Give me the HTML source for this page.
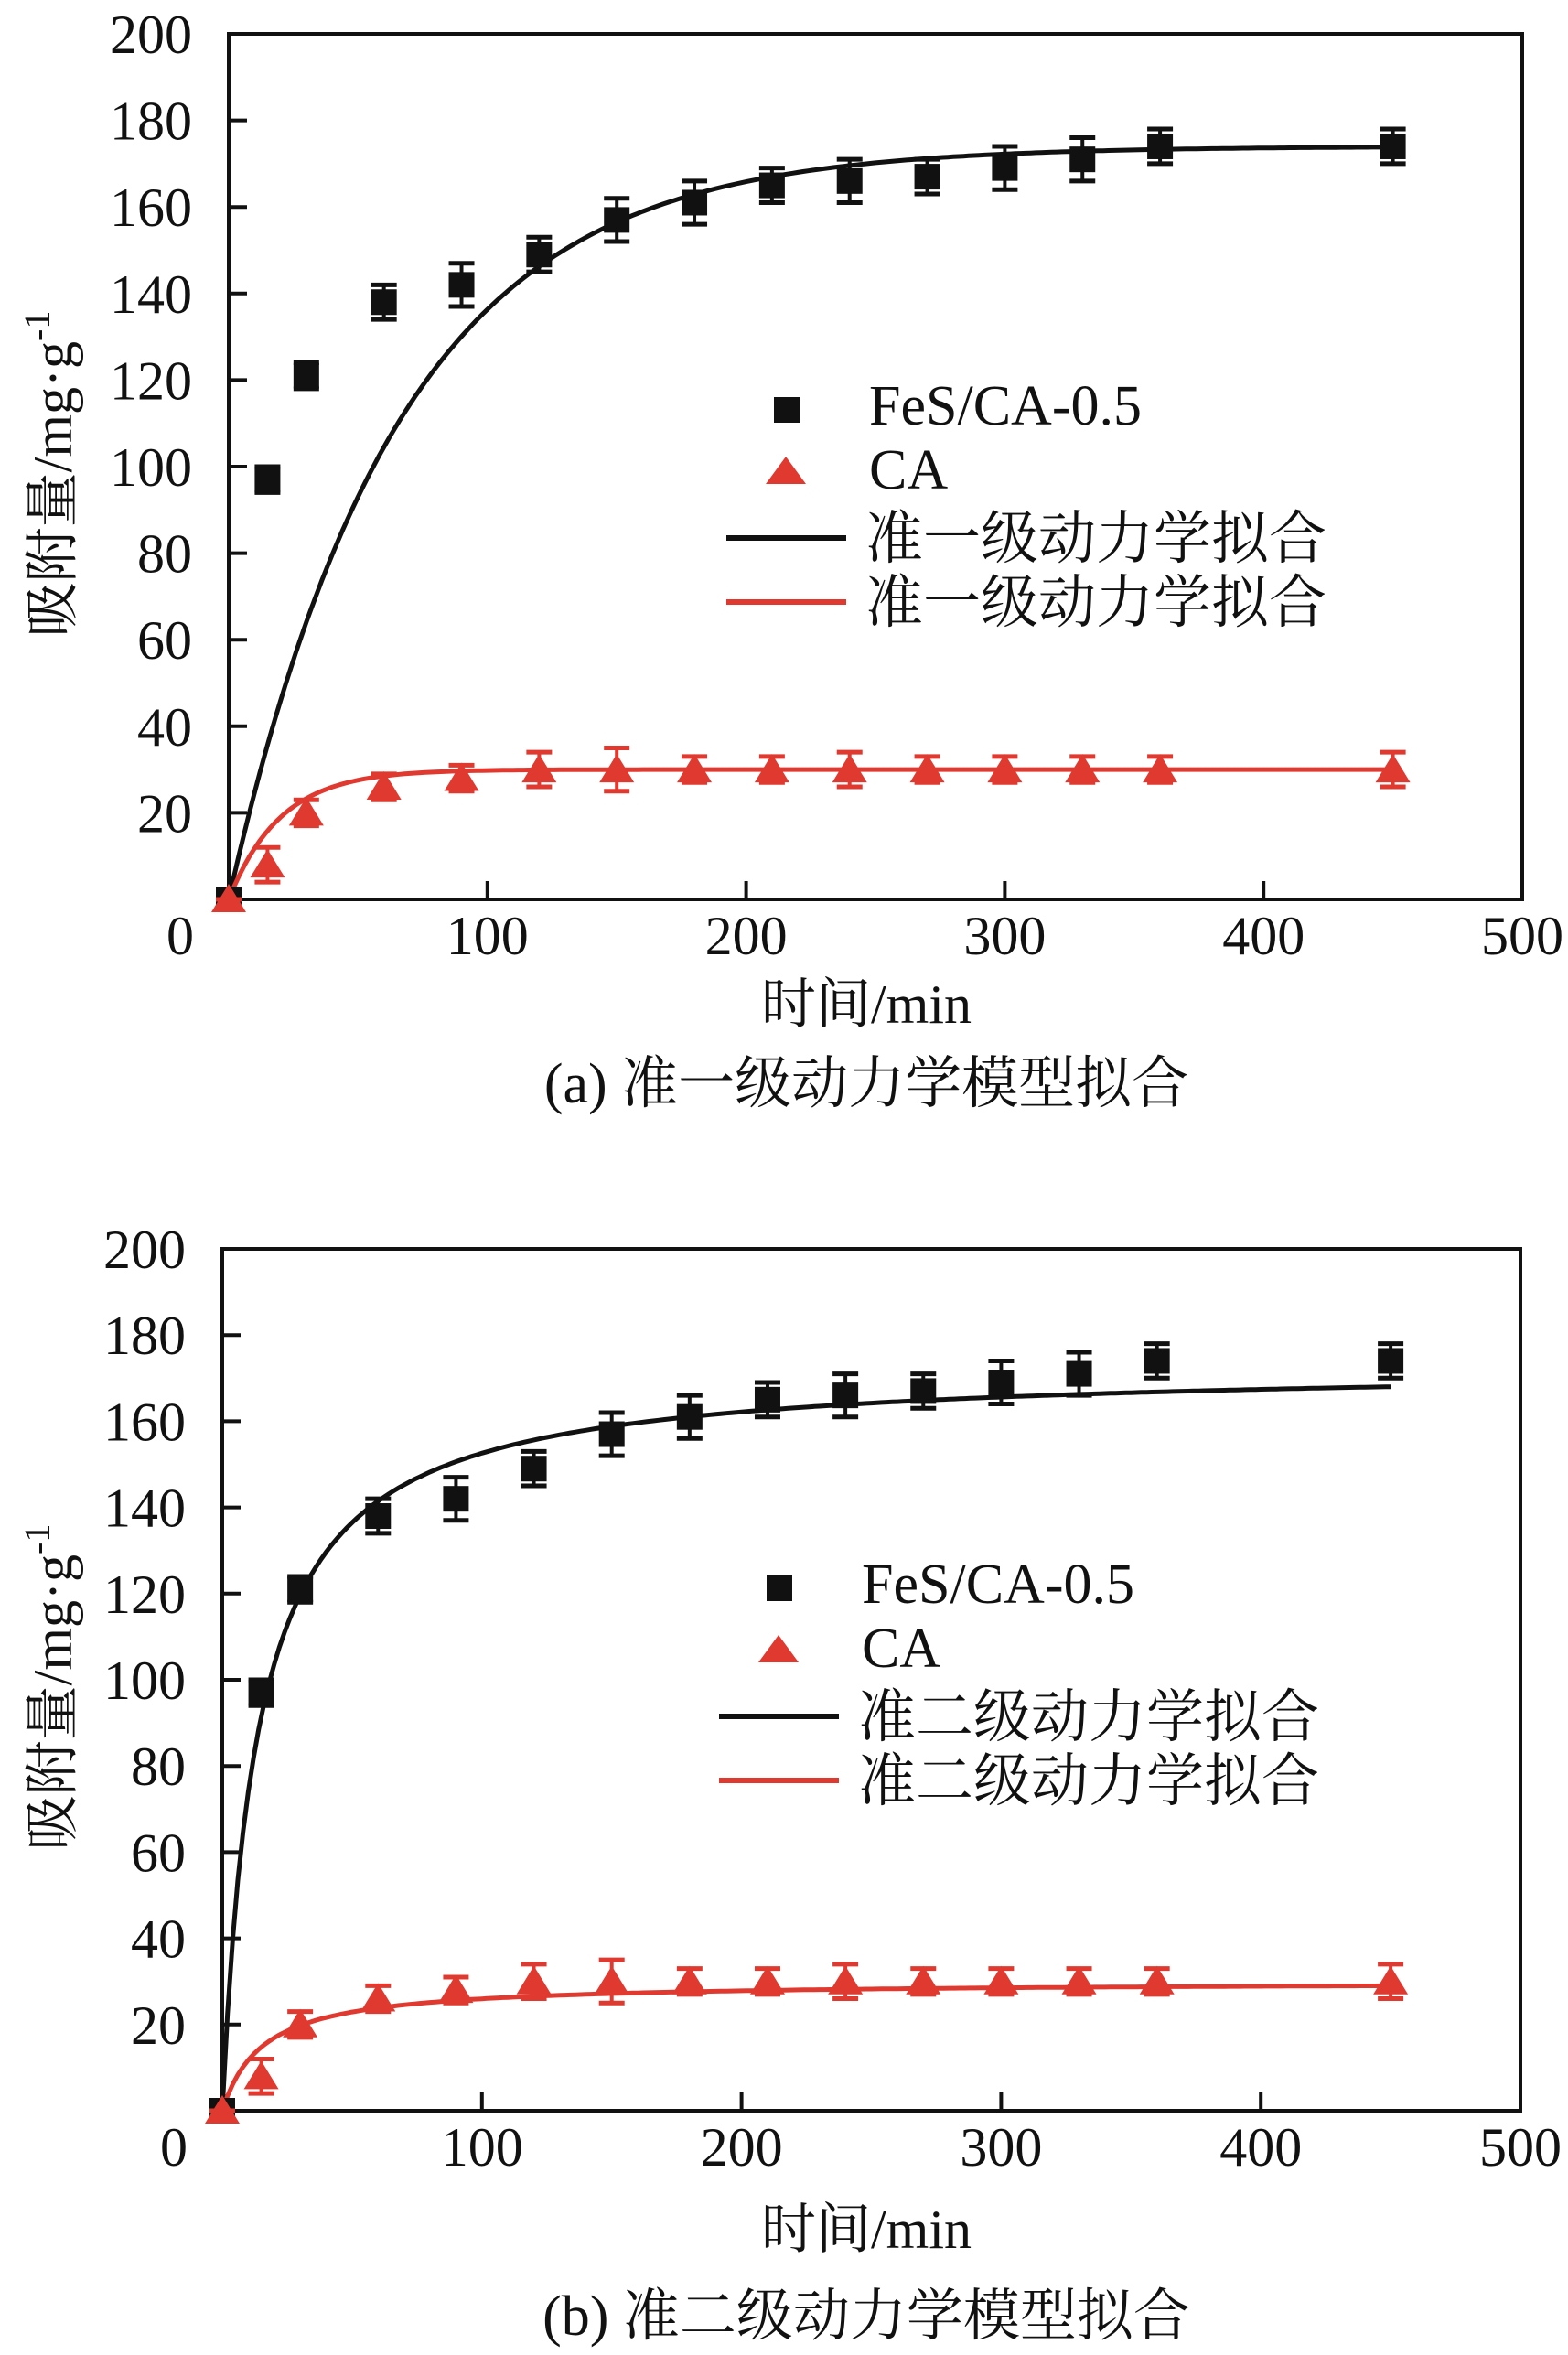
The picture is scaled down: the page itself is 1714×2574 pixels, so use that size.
<!DOCTYPE html>
<html><head><meta charset="utf-8"><style>
html,body{margin:0;padding:0;background:#fff;}
svg{display:block;font-family:"Liberation Serif","Noto Serif CJK SC","Noto Sans CJK SC",serif;}
</style></head><body>
<svg id="fig" width="1714" height="2574" viewBox="0 0 1714 2574" xmlns="http://www.w3.org/2000/svg"></svg>
<script>
const times = [0, 15, 30, 60, 90, 120, 150, 180, 210, 240, 270, 300, 330, 360, 450];
const fesValues = [0, 97, 121, 138, 142, 149, 157, 161, 165, 166, 167, 169, 171, 174, 174];
const fesErrors = [0, 3, 3, 4, 5, 4, 5, 5, 4, 5, 4, 5, 5, 4, 4];
const caValues = [0, 8, 20, 26, 28, 30, 30, 30, 30, 30, 30, 30, 30, 30, 30];
const caErrors = [0, 4, 3, 3, 3, 4, 5, 3, 3, 4, 3, 3, 3, 3, 4];
const pfoParams = [[174, 0.0153], [30, 0.05]];      // qe, k1
const psoParams = [[173, 0.000432], [30, 0.00215]]; // qe, k2
const xTicks = [0, 100, 200, 300, 400, 500];
const yTicks = [20, 40, 60, 80, 100, 120, 140, 160, 180, 200];
const legendLabels = ["FeS/CA-0.5", "CA"];

const NS = "http://www.w3.org/2000/svg";
const svg = document.getElementById("fig");
function mk(tag, attrs, parent) {
  const e = document.createElementNS(NS, tag);
  for (const k in attrs) e.setAttribute(k, attrs[k]);
  (parent || svg).appendChild(e);
  return e;
}

function drawPanel(p) {
  const g = mk("g", {});
  
  
  const X = v => p.L + (v / 500) * (p.R - p.L);
  const Y = v => p.B - (v / 200) * (p.B - p.T);

  const frame = mk("rect", {x: p.L, y: p.T, width: p.R - p.L, height: p.B - p.T, fill: "none", stroke: "#111", "stroke-width": 4}, g);
  
  

  yTicks.forEach(v => {
    if (v < 200) {
      const t = mk("line", {x1: p.L, x2: p.L + 20, y1: Y(v), y2: Y(v), stroke: "#111", "stroke-width": 4}, g);
      
      
    }
    const lb = mk("text", {x: p.L - 40, y: Y(v) + 21, "font-size": 60, "text-anchor": "end", fill: "#111"}, g);
    lb.textContent = v;
    
    
  });
  xTicks.forEach(v => {
    if (v > 0 && v < 500) {
      const t = mk("line", {x1: X(v), x2: X(v), y1: p.B, y2: p.B - 20, stroke: "#111", "stroke-width": 4}, g);
      
      
    }
    const lx = v === 0 ? p.L - 53 : X(v);
    const lb = mk("text", {x: lx, y: p.B + 60, "font-size": 60, "text-anchor": "middle", fill: "#111"}, g);
    lb.textContent = v;
    
    
  });

  const colors = ["#111", "#e03a30"];
  p.params.forEach((pr, i) => {
    let d = "";
    for (let t = 0; t <= 450; t += 2) {
      const q = p.model(pr, t);
      d += (t === 0 ? "M" : "L") + X(t).toFixed(1) + "," + Y(q).toFixed(1);
    }
    const c = mk("path", {d: d, fill: "none", stroke: colors[i], "stroke-width": 5}, g);
    
    
  });

  function errBar(x, v, e, col, parent) {
    const y1 = Y(v + e), y2 = Y(v - e);
    mk("line", {x1: X(x), x2: X(x), y1: y1, y2: y2, stroke: col, "stroke-width": 4}, parent);
    mk("line", {x1: X(x) - 14, x2: X(x) + 14, y1: y1, y2: y1, stroke: col, "stroke-width": 5}, parent);
    mk("line", {x1: X(x) - 14, x2: X(x) + 14, y1: y2, y2: y2, stroke: col, "stroke-width": 5}, parent);
  }
  times.forEach((t, i) => {
    const pt = mk("g", {}, g);
    
    
    errBar(t, fesValues[i], fesErrors[i], "#111", pt);
    mk("rect", {x: X(t) - 14, y: Y(fesValues[i]) - 14, width: 28, height: 28, fill: "#111"}, pt);
  });
  times.forEach((t, i) => {
    const pt = mk("g", {}, g);
    
    
    errBar(t, caValues[i], caErrors[i], "#e03a30", pt);
    const cx = X(t), cy = Y(caValues[i]);
    mk("polygon", {points: `${cx},${cy - 17} ${cx + 19},${cy + 14} ${cx - 19},${cy + 14}`, fill: "#e03a30"}, pt);
  });

  const lg = mk("g", {}, g);
  
  
  const ly = p.legendY, lx = p.legendX;
  mk("rect", {x: lx + 52, y: ly - 14, width: 28, height: 28, fill: "#111"}, lg);
  const t1 = mk("text", {x: lx + 156, y: ly + 16, "font-size": 62, fill: "#111"}, lg);
  t1.textContent = legendLabels[0];
  mk("polygon", {points: `${lx + 65},${ly + 51} ${lx + 87},${ly + 81} ${lx + 43},${ly + 81}`, fill: "#e03a30"}, lg);
  const t2 = mk("text", {x: lx + 156, y: ly + 86, "font-size": 62, fill: "#111"}, lg);
  t2.textContent = legendLabels[1];
  mk("line", {x1: lx, x2: lx + 131, y1: ly + 140, y2: ly + 140, stroke: "#111", "stroke-width": 6}, lg);
  const t3 = mk("text", {x: lx + 152, y: ly + 162, "font-size": 63, fill: "#111"}, lg);
  t3.textContent = p.fitName;
  mk("line", {x1: lx, x2: lx + 131, y1: ly + 210, y2: ly + 210, stroke: "#e03a30", "stroke-width": 6}, lg);
  const t4 = mk("text", {x: lx + 152, y: ly + 232, "font-size": 63, fill: "#111"}, lg);
  t4.textContent = p.fitName;

  const xt = mk("text", {x: 947, y: p.B + p.xtOff, "font-size": 60, "text-anchor": "middle", fill: "#111"}, g);
  xt.textContent = "时间/min";
  
  
  const yc = (p.T + p.B) / 2 + 8;
  const yt = mk("text", {x: 0, y: 0, "font-size": 60, "text-anchor": "middle", fill: "#111", transform: `translate(78,${yc}) rotate(-90)`}, g);
  yt.innerHTML = '吸附量/mg·g<tspan dy="-24" font-size="40">-1</tspan>';
  
  
  const cap = mk("text", {x: 947, y: p.B + p.capOff, "font-size": 62, "text-anchor": "middle", fill: "#111"}, g);
  cap.textContent = p.caption;
  
  
}

drawPanel({id: "pfo", L: 250, R: 1664, T: 37, B: 983, params: pfoParams,
  model: (pr, t) => pr[0] * (1 - Math.exp(-pr[1] * t)),
  legendX: 794, legendY: 448, fitName: "准一级动力学拟合", caption: "(a) 准一级动力学模型拟合",
  xtOff: 135, capOff: 222});
drawPanel({id: "pso", L: 243, R: 1662, T: 1365, B: 2307, params: psoParams,
  model: (pr, t) => pr[1] * pr[0] * pr[0] * t / (1 + pr[1] * pr[0] * t),
  legendX: 786, legendY: 1736, fitName: "准二级动力学拟合", caption: "(b) 准二级动力学模型拟合",
  xtOff: 150, capOff: 245});
</script>
</body></html>
